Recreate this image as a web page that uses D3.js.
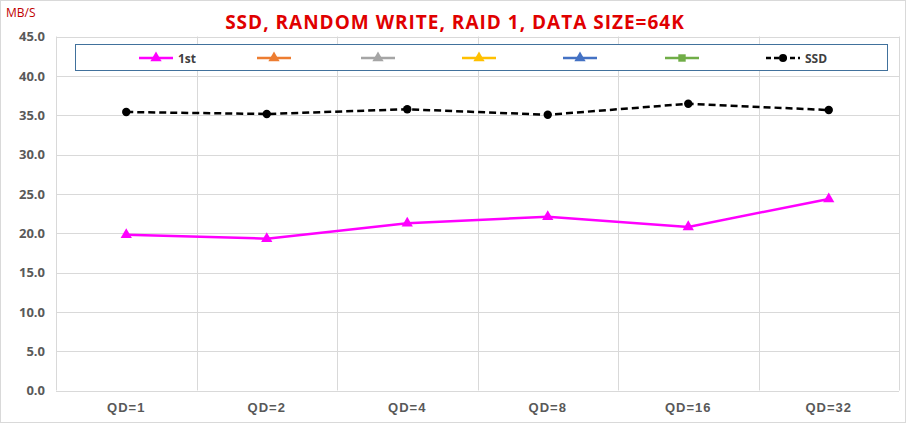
<!DOCTYPE html>
<html><head><meta charset="utf-8">
<script src="https://cdn.jsdelivr.net/npm/d3@7"></script>
<style>
body{margin:0;background:#fff;}
svg{display:block;font-family:"Open Sans","Noto Sans",sans-serif;}
</style></head>
<body><svg id="c" width="906" height="423"></svg>
<script>
const categories = ["QD=1","QD=2","QD=4","QD=8","QD=16","QD=32"];
const series1st = [19.8, 19.3, 21.25, 22.1, 20.8, 24.35];
const seriesSSD = [35.4, 35.15, 35.75, 35.05, 36.45, 35.65];
const yTicks = [0,5,10,15,20,25,30,35,40,45];
const legendNames = ["1st","","","","","","SSD"];
const legendColors = ["#ff00ff","#ed7d31","#a5a5a5","#ffc000","#4472c4","#70ad47","#000000"];
const legendMarkers = ["triangle","triangle","triangle","triangle","triangle","square","circle"];
const title = "SSD, RANDOM WRITE, RAID 1, DATA SIZE=64K";
const yUnit = "MB/S";

const svg = d3.select("#c");
const W=906,H=423;
const m={l:56,r:7,t:36.5,b:32.5};
svg.append("rect").attr("x",0.5).attr("y",0.5).attr("width",W-1).attr("height",H-1)
  .attr("fill","#fff").attr("stroke","#d9d9d9");

const x = d3.scaleBand().domain(categories).range([m.l, W-m.r]);
const y = d3.scaleLinear().domain([0,45]).range([H-m.b, m.t]);

// grid
const g = svg.append("g");
g.selectAll(".hg").data(yTicks).join("line")
  .attr("x1",m.l).attr("x2",W-m.r).attr("y1",d=>Math.round(y(d))+0.5).attr("y2",d=>Math.round(y(d))+0.5)
  .attr("stroke","#d9d9d9").attr("stroke-width",1);
const vb = categories.map(c=>x(c)).concat([W-m.r]);
g.selectAll(".vg").data(vb).join("line")
  .attr("x1",d=>Math.round(d)+0.5).attr("x2",d=>Math.round(d)+0.5).attr("y1",y(45)).attr("y2",y(0))
  .attr("stroke","#d9d9d9").attr("stroke-width",1);

// axes
const ya = svg.append("g").attr("transform",`translate(${m.l-8},0)`)
  .call(d3.axisLeft(y).tickValues(yTicks).tickFormat(d3.format(".1f")).tickSize(0));
ya.select(".domain").remove();
ya.selectAll("text").attr("fill","#595959").attr("font-size",13).attr("font-weight","bold")
  .attr("font-family","'Liberation Sans Narrow','Open Sans',sans-serif");

const xa = svg.append("g").attr("transform",`translate(0,${H-m.b+9})`)
  .call(d3.axisBottom(x).tickSize(0));
xa.select(".domain").remove();
xa.selectAll("text").attr("fill","#595959").attr("font-size",13).attr("font-weight","bold")
  .attr("letter-spacing","1px");

// lines
const cx = c=>x(c)+x.bandwidth()/2;
const line = d3.line().x((d,i)=>cx(categories[i])).y(d=>y(d));
svg.append("path").datum(seriesSSD).attr("d",line).attr("fill","none")
  .attr("stroke","#000").attr("stroke-width",2.5).attr("stroke-dasharray","7,4");
svg.selectAll(".sp").data(seriesSSD).join("circle")
  .attr("cx",(d,i)=>cx(categories[i])).attr("cy",d=>y(d)).attr("r",4.2).attr("fill","#000");

svg.append("path").datum(series1st).attr("d",line).attr("fill","none")
  .attr("stroke","#ff00ff").attr("stroke-width",2.5);
const tri = d3.symbol().type(d3.symbolTriangle).size(55);
svg.selectAll(".tp").data(series1st).join("path")
  .attr("d",tri).attr("fill","#ff00ff")
  .attr("transform",(d,i)=>`translate(${cx(categories[i])},${y(d)})`);

// legend
svg.append("rect").attr("x",75.5).attr("y",44.5).attr("width",812).attr("height",26)
  .attr("fill","#fff").attr("stroke","#41719c").attr("stroke-width",1);
const lx = [139,257,361,462,563,665,766];
const lg = svg.selectAll(".lg").data(legendNames).join("g")
  .attr("transform",(d,i)=>`translate(${lx[i]},58)`);
lg.append("line").attr("x1",0).attr("x2",34).attr("y1",0).attr("y2",0)
  .attr("stroke",(d,i)=>legendColors[i]).attr("stroke-width",2.5)
  .attr("stroke-dasharray",(d,i)=>legendMarkers[i]==="circle"?"5,3":null);
lg.append("path").attr("d",(d,i)=>{
    const t = legendMarkers[i]==="triangle"?d3.symbolTriangle:legendMarkers[i]==="square"?d3.symbolSquare:d3.symbolCircle;
    return d3.symbol().type(t).size(legendMarkers[i]==="circle"?50:55)();
  }).attr("transform","translate(17,0)").attr("fill",(d,i)=>legendColors[i]);
lg.append("text").attr("x",39).attr("y",4.5).text(d=>d)
  .attr("font-size",12).attr("fill","#404040").attr("font-weight","bold")
  .attr("font-family","'Liberation Sans Narrow','Open Sans',sans-serif");

// title
svg.append("text").attr("x",455).attr("y",29).attr("text-anchor","middle")
  .attr("font-size",19).attr("font-weight","bold").attr("fill","#e00000")
  .attr("letter-spacing","1px").text(title);
svg.append("text").attr("x",6).attr("y",17).attr("font-size",12).attr("fill","#c00000")
  .attr("font-family","'Liberation Sans Narrow','Open Sans',sans-serif").text(yUnit);
</script></body></html>
